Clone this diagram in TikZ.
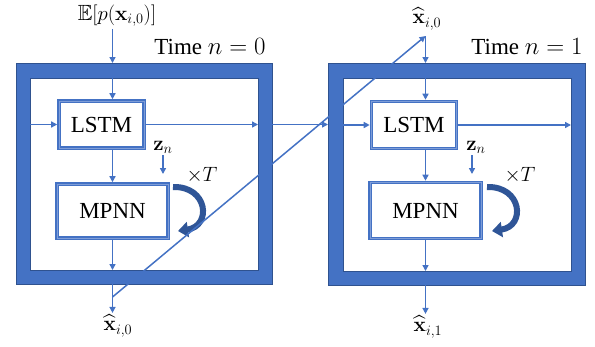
\documentclass[tikz,border=0pt]{standalone}
\usepackage{amsmath,amssymb}
\usepackage[no-math]{fontspec}
\setmainfont{Liberation Serif}
\usetikzlibrary{arrows.meta,positioning}
\definecolor{fblue}{HTML}{4472C4}
\definecolor{fedge}{HTML}{2F528F}
\definecolor{fpale}{HTML}{7E9DD8}
\definecolor{floop}{HTML}{2F5597}
\tikzset{
  outerbox/.style = {draw=fedge, line width=0.6pt, fill=fblue, inner sep=0pt, outer sep=0pt},
  innerbox/.style = {draw=fedge, line width=0.6pt, fill=white, inner sep=0pt, outer sep=0pt},
  block/.style    = {draw=fblue, double=fpale, line width=1.3pt, double distance=1pt,
                     inner sep=0pt, outer sep=1.8pt, font=\fontsize{23}{27}\selectfont},
  lbl/.style      = {inner sep=2pt, font=\fontsize{22}{26}\selectfont},
  sig/.style      = {-{Triangle[length=6pt,width=6pt]}, line width=1.5pt, draw=fblue},
  loopar/.style   = {-{Triangle[length=10pt,width=15pt]}, line width=6pt, draw=floop},
}

\begin{document}
\begin{tikzpicture}[x=1pt,y=-1pt]
\useasboundingbox (0,0) rectangle (595,346);
% frames
\node (outer0) [outerbox, minimum width=256pt, minimum height=221pt] at (144,173.5) {};
\node (inner0) [innerbox, minimum width=228pt, minimum height=192pt] at (144,174) {};
\node (outer1) [outerbox, minimum width=257pt, minimum height=222pt] at (456.5,174) {};
\node (inner1) [innerbox, minimum width=228pt, minimum height=193pt] at (457,174.5) {};
% blocks
\node (lstm0) [block, minimum width=85pt, minimum height=47pt] at (101.5,124.5) {LSTM};
\node (mpnn0) [block, minimum width=111pt, minimum height=54pt] at (112.5,211) {MPNN};
\node (lstm1) [block, minimum width=85pt, minimum height=47pt] at (414,125) {LSTM};
\node (mpnn1) [block, minimum width=111pt, minimum height=56pt] at (425.5,210.5) {MPNN};
% labels
\node (in0) [lbl] at (117,16) {$\mathbb{E}[p(\mathbf{x}_{i,0})]$};
\node (time0) [lbl, font=\fontsize{23}{27}\selectfont] at (210,47) {Time $n=0$};
\node (zn0) [lbl] at (163,147) {$\mathbf{z}_n$};
\node (rep0) [lbl] at (202,175) {$\times T$};
\node (out0) [lbl] at (118,326) {$\widehat{\mathbf{x}}_{i,0}$};
\node (in1) [lbl] at (427,19) {$\widehat{\mathbf{x}}_{i,0}$};
\node (time1) [lbl, font=\fontsize{23}{27}\selectfont] at (527,47) {Time $n=1$};
\node (zn1) [lbl] at (476,147) {$\mathbf{z}_n$};
\node (rep1) [lbl] at (520,175) {$\times T$};
\node (out1) [lbl] at (428,327) {$\widehat{\mathbf{x}}_{i,1}$};
\coordinate (zt0) at (163,174);
\coordinate (zt1) at (472,174);
\coordinate (split0) at (112.5,297);
\coordinate (join1) at (425.5,36);
% time 0
\draw[sig] (in0.south -| mpnn0) -- (outer0.north -| mpnn0);
\draw[sig] (inner0.north -| mpnn0) -- (lstm0.north -| mpnn0);
\draw[sig] (inner0.west |- lstm0) -- (lstm0.west);
\draw[sig] (lstm0.east) -- (inner0.east |- lstm0);
\draw[sig] (lstm0.south -| mpnn0) -- (mpnn0.north);
\draw[sig] (zn0.south -| zt0) -- (zt0);
\draw[sig] (mpnn0.south) -- (inner0.south -| mpnn0);
\draw[sig] (outer0.south -| mpnn0) -- (out0.north -| mpnn0);
\draw[loopar] (173,187) .. controls (208,186) and (212,226) .. (178,231);
% hand over to time 1
\draw[sig] (outer0.east |- lstm0) -- (outer1.west |- lstm0);
\draw[sig] (split0) -- (join1);
\draw[sig] (join1) -- (outer1.north -| mpnn1);
% time 1
\draw[sig] (inner1.north -| mpnn1) -- (lstm1.north -| mpnn1);
\draw[sig] (inner1.west |- lstm1) -- (lstm1.west);
\draw[sig] (lstm1.east) -- (inner1.east |- lstm1);
\draw[sig] (lstm1.south -| mpnn1) -- (mpnn1.north);
\draw[sig] (zn1.south -| zt1) -- (zt1);
\draw[sig] (mpnn1.south) -- (inner1.south -| mpnn1);
\draw[sig] (outer1.south -| mpnn1) -- (out1.north -| mpnn1);
\draw[loopar] (487,187) .. controls (522,186) and (526,226) .. (492,231);
\end{tikzpicture}
\end{document}
